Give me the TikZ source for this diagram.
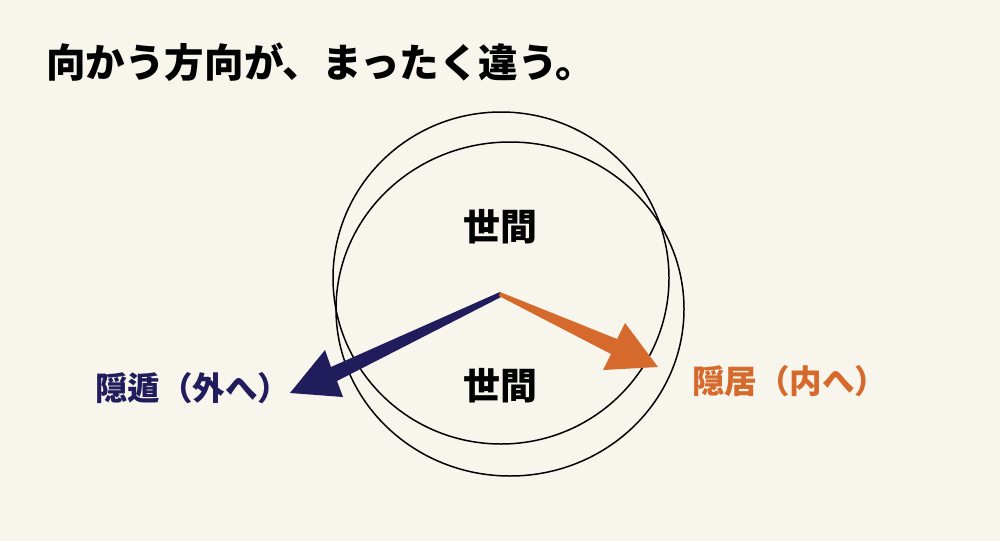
\documentclass[tikz,border=0pt]{standalone}
\usepackage{fontspec}
\newfontfamily\cjk{Noto Sans CJK JP}
\definecolor{paper}{HTML}{F8F5EC}
\definecolor{inton}{HTML}{211C5C}
\definecolor{inkyo}{HTML}{D6692C}
\begin{document}
\begin{tikzpicture}[x=0.02cm,y=-0.02cm,
		title/.style={anchor=west,inner sep=0pt,font=\cjk\bfseries\fontsize{22.5}{25}\selectfont},
		seken/.style={anchor=center,inner sep=0pt,font=\cjk\bfseries\fontsize{21}{24}\selectfont},
		label/.style={anchor=west,inner sep=0pt,font=\cjk\bfseries\fontsize{18.5}{21}\selectfont}]
	\fill[paper] (0,0) rectangle (1000,541);
	\useasboundingbox (0,0) rectangle (1000,541);
	\node[title] (ttl) at (46,62) {向かう方向が、まったく違う。};
	% two worlds
	\draw[black,line width=.85pt] (501,278) ellipse [x radius=168,y radius=166];
	\draw[black,line width=.85pt] (510,309) ellipse [x radius=174,y radius=167];
	\node[seken] (up) at (500,227) {世間};
	\node[seken] (dn) at (500,386) {世間};
	% arrows
	\coordinate (ctr) at (500,292);
	\coordinate (ltip) at (290,393);
	\coordinate (rtip) at (658,367);
	\fill[inton] (ctr) -- (331,367) -- (325,350) -- (ltip)
		-- (343,397) -- (337,381) -- (503,296) -- cycle;
	\fill[inkyo] (ctr) -- (617,339) -- (625,323) -- (rtip)
		-- (603,370) -- (611,354) -- (499,296) -- cycle;
	\node[label] (out) at (95,388) {\textcolor{inton}{隠遁（外へ）}};
	\node[label] (in) at (692,381) {\textcolor{inkyo}{隠居（内へ）}};
\end{tikzpicture}
\end{document}
